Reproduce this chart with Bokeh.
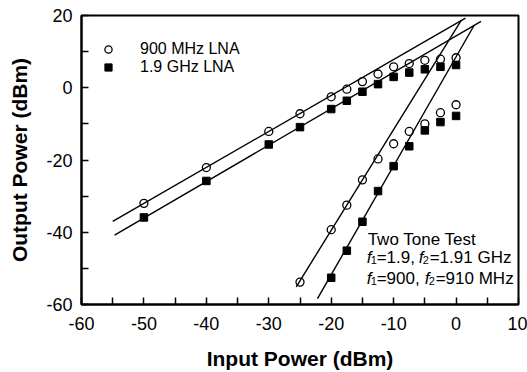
from bokeh.plotting import figure
from bokeh.models import Label, Legend, LegendItem, FixedTicker
from bokeh.embed import file_html
from bokeh.resources import INLINE

# ---- data ----
x_fund = [-50, -40, -30, -25, -20, -17.5, -15, -12.5, -10, -7.5, -5, -2.5, 0]
fund_900 = [-32.0, -22.1, -12.1, -7.2, -2.5, -0.4, 1.7, 3.8, 5.8, 6.7, 7.6, 7.9, 8.3]
fund_1900 = [-35.9, -25.8, -15.7, -10.9, -5.9, -3.6, -1.1, 1.0, 3.0, 4.2, 5.1, 5.8, 6.3]

x_im3_900 = [-25, -20, -17.5, -15, -12.5, -10, -7.5, -5, -2.5, 0]
im3_900 = [-53.8, -39.3, -32.5, -25.5, -19.7, -15.5, -12.1, -10.0, -6.9, -4.7]
x_im3_1900 = [-20, -17.5, -15, -12.5, -10, -7.5, -5, -2.5, 0]
im3_1900 = [-52.6, -45.1, -37.1, -28.6, -21.7, -16.2, -11.8, -9.5, -7.8]

# fitted straight lines (end points)
fit_fund_900_x = [-55, 1.5]
fit_fund_900_y = [-37.0, 19.3]
fit_fund_1900_x = [-54.7, 4.0]
fit_fund_1900_y = [-40.8, 18.4]
fit_im3_900_x = [-25.6, 0.8]
fit_im3_900_y = [-55.1, 18.6]
fit_im3_1900_x = [-22.2, 2.9]
fit_im3_1900_y = [-58.4, 17.3]

x_ticks = [-60, -50, -40, -30, -20, -10, 0, 10]
x_tick_labels = ["-60", "-50", "-40", "-30", "-20", "-10", "0", "10"]
x_minor = [-55, -45, -35, -25, -15, -5, 5]
y_ticks = [-60, -40, -20, 0, 20]
y_tick_labels = ["-60", "-40", "-20", "0", "20"]
y_minor = [-50, -30, -10, 10]

legend_labels = ["900 MHz LNA", "1.9 GHz LNA"]

FONT = "Liberation Sans"

p = figure(width=527, height=372, x_range=(-60, 10), y_range=(-60, 20),
           output_backend="svg", toolbar_location=None,
           min_border_left=81, min_border_right=9, min_border_top=15, min_border_bottom=66)
p.background_fill_color = "white"
p.border_fill_color = "white"
p.outline_line_color = "black"
p.outline_line_width = 2
p.xgrid.visible = False
p.ygrid.visible = False

for ax in (p.xaxis[0], p.yaxis[0]):
    ax.axis_line_width = 2
    ax.axis_line_color = "black"
    ax.major_tick_in = 7
    ax.major_tick_out = 0
    ax.minor_tick_in = 7
    ax.minor_tick_out = 0
    ax.major_tick_line_width = 1.5
    ax.minor_tick_line_width = 1.5
    ax.major_label_text_font = FONT
    ax.major_label_text_font_size = "18px"
    ax.major_label_text_color = "black"
    ax.axis_label_text_font = FONT
    ax.axis_label_text_font_size = "21px"
    ax.axis_label_text_font_style = "bold"
    ax.axis_label_text_color = "black"

p.xaxis.ticker = FixedTicker(ticks=x_ticks, minor_ticks=x_minor)
p.yaxis.ticker = FixedTicker(ticks=y_ticks, minor_ticks=y_minor)
p.xaxis.major_label_overrides = {t: s for t, s in zip(x_ticks, x_tick_labels)}
p.yaxis.major_label_overrides = {t: s for t, s in zip(y_ticks, y_tick_labels)}
p.xaxis.axis_label = "Input Power (dBm)"
p.yaxis.axis_label = "Output Power (dBm)"
p.xaxis.major_label_standoff = 12
p.yaxis.major_label_standoff = 9
p.xaxis.axis_label_standoff = 14
p.yaxis.axis_label_standoff = 12

# fit lines
for xs, ys in ((fit_fund_900_x, fit_fund_900_y), (fit_fund_1900_x, fit_fund_1900_y),
               (fit_im3_900_x, fit_im3_900_y), (fit_im3_1900_x, fit_im3_1900_y)):
    p.line(xs, ys, line_color="black", line_width=1.4)

# markers
r_c1 = p.scatter(x_fund, fund_900, marker="circle", size=8, fill_color=None,
                 line_color="black", line_width=1.3)
r_s1 = p.scatter(x_fund, fund_1900, marker="square", size=7.5, fill_color="black",
                 line_color="black")
p.scatter(x_im3_900, im3_900, marker="circle", size=8, fill_color=None,
          line_color="black", line_width=1.3)
p.scatter(x_im3_1900, im3_1900, marker="square", size=7.5, fill_color="black",
          line_color="black")

legend = Legend(items=[LegendItem(label=legend_labels[0], renderers=[r_c1]),
                       LegendItem(label=legend_labels[1], renderers=[r_s1])],
                location=(18, 228), margin=0, padding=0, spacing=0,
                glyph_width=18, glyph_height=18, label_height=18,
                label_standoff=23, label_text_font=FONT, label_text_font_size="16px",
                label_text_color="black",
                border_line_alpha=0, background_fill_alpha=0)
p.add_layout(legend)

# annotation block
ax0, ay0 = -14.8, -41.9
ann_size = "17px"
sub_size = "11px"


def piece(text, dx, dy, size=ann_size, style="normal"):
    p.add_layout(Label(x=ax0, y=ay0, x_offset=dx, y_offset=dy, text=text,
                       text_font=FONT, text_font_size=size, text_font_style=style,
                       text_color="black", text_baseline="alphabetic"))


piece("Two Tone Test", 4, 0)
# line 2
piece("f", 3, -18, style="italic")
piece("1", 7, -21, size=sub_size)
piece("=1.9, ", 13, -18)
piece("f", 55, -18, style="italic")
piece("2", 59, -21, size=sub_size)
piece("=1.91 GHz", 66, -18)
# line 3
piece("f", 3, -39, style="italic")
piece("1", 7, -42, size=sub_size)
piece("=900, ", 13, -39)
piece("f", 61, -39, style="italic")
piece("2", 65, -42, size=sub_size)
piece("=910 MHz", 72, -39)

open("out.html", "w").write(file_html(p, INLINE))
